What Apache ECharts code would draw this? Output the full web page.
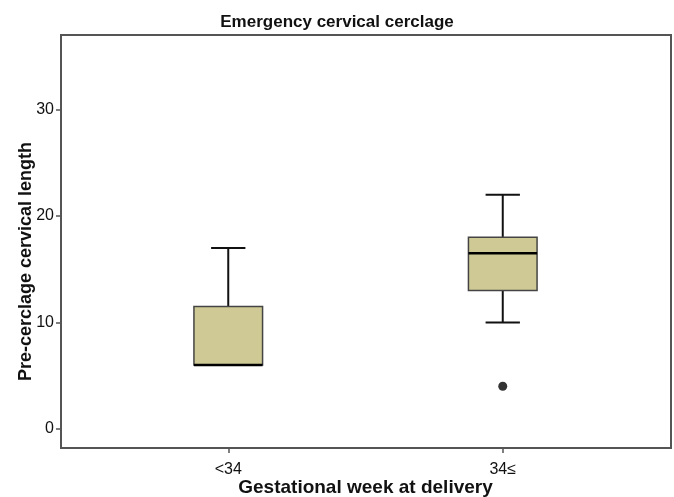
<!DOCTYPE html>
<html>
<head>
<meta charset="utf-8">
<script src="https://cdn.jsdelivr.net/npm/echarts@6/dist/echarts.min.js"></script>
<style>
  html, body { margin: 0; padding: 0; background: #fff; }
  #chart1 { width: 674px; height: 497px; }
</style>
</head>
<body>
<div id="chart1"></div>
<script>
// 数据
var categories = ['<34', '34≤'];
// [min, Q1, median, Q3, max]
var boxValues = [
    [6, 6, 6, 11.5, 17],
    [10, 13, 16.5, 18, 22]
];
var outliers = [['34≤', 4]];
var yTicks = [0, 10, 20, 30];

var fontFamily = '"Liberation Sans", Arial, Helvetica, sans-serif';

// 箱线图数据: [类别索引, min, Q1, median, Q3, max]
var boxData = boxValues.map(function (d, i) {
    return [i].concat(d);
});

function renderBox(params, api) {
    var idx = api.value(0);
    var pMin = api.coord([idx, api.value(1)]);
    var pQ1 = api.coord([idx, api.value(2)]);
    var pMed = api.coord([idx, api.value(3)]);
    var pQ3 = api.coord([idx, api.value(4)]);
    var pMax = api.coord([idx, api.value(5)]);
    var bw = api.size([1, 0])[0] * 0.25; // 箱宽
    var cx = pMed[0];
    var capW = bw / 2; // 须线端点宽度
    var lineStyle = { stroke: '#111', lineWidth: 2 };
    return {
        type: 'group',
        children: [
            { type: 'line', shape: { x1: cx, y1: pMax[1], x2: cx, y2: pQ3[1] }, style: lineStyle },
            { type: 'line', shape: { x1: cx, y1: pQ1[1], x2: cx, y2: pMin[1] }, style: lineStyle },
            { type: 'line', shape: { x1: cx - capW / 2, y1: pMax[1], x2: cx + capW / 2, y2: pMax[1] }, style: lineStyle },
            { type: 'line', shape: { x1: cx - capW / 2, y1: pMin[1], x2: cx + capW / 2, y2: pMin[1] },
              style: { stroke: '#111', lineWidth: pMin[1] === pQ1[1] ? 0 : 2 } },
            {
                type: 'rect',
                shape: { x: cx - bw / 2, y: pQ3[1], width: bw, height: pQ1[1] - pQ3[1] },
                style: { fill: '#cfca95', stroke: '#444', lineWidth: 1.5 }
            },
            { type: 'line', shape: { x1: cx - bw / 2, y1: pMed[1], x2: cx + bw / 2, y2: pMed[1] },
              style: { stroke: '#000', lineWidth: 2.5 } }
        ]
    };
}

option = {
    backgroundColor: '#fff',
    title: {
        text: 'Emergency cervical cerclage',
        left: 'center',
        top: 9,
        textStyle: {
            color: '#111',
            fontSize: 17,
            fontWeight: 'bold',
            fontFamily: fontFamily
        }
    },
    grid: [
        { // 外框
            left: 61, right: 3, top: 35, bottom: 49,
            outerBoundsMode: 'none',
            show: true,
            borderColor: '#555',
            borderWidth: 2,
            backgroundColor: 'transparent'
        },
        { // 箱线图区域
            left: 91, right: 34, top: 35, bottom: 49,
            outerBoundsMode: 'none'
        }
    ],
    xAxis: [
        {
            gridIndex: 0,
            type: 'value',
            show: false
        },
        {
            gridIndex: 1,
            type: 'category',
            data: categories,
            name: 'Gestational week at delivery',
            nameLocation: 'middle',
            nameGap: 30,
            nameMoveOverlap: false,
            nameTextStyle: {
                color: '#111',
                fontSize: 19,
                fontWeight: 'bold',
                fontFamily: fontFamily
            },
            axisLine: { show: false, onZero: false },
            axisTick: {
                show: true,
                alignWithLabel: true,
                length: 5,
                lineStyle: { color: '#555', width: 1.5 }
            },
            axisLabel: {
                color: '#111',
                fontSize: 16,
                margin: 14,
                fontFamily: fontFamily
            },
            splitLine: { show: false }
        }
    ],
    yAxis: [
        {
            gridIndex: 0,
            type: 'value',
            min: -1.8,
            max: 37,
            name: 'Pre-cerclage cervical length',
            nameLocation: 'middle',
            nameGap: 26,
            nameMoveOverlap: false,
            nameTextStyle: {
                color: '#111',
                fontSize: 18,
                fontWeight: 'bold',
                fontFamily: fontFamily,
                padding: [0, 40, 0, 0]
            },
            axisLine: { show: false, onZero: false },
            axisTick: {
                show: true,
                length: 5,
                customValues: yTicks,
                lineStyle: { color: '#555', width: 1.5 }
            },
            axisLabel: {
                color: '#111',
                fontSize: 16,
                margin: 7,
                customValues: yTicks,
                fontFamily: fontFamily
            },
            splitLine: { show: false }
        },
        {
            gridIndex: 1,
            type: 'value',
            min: -1.8,
            max: 37,
            show: false
        }
    ],
    series: [
        {
            type: 'custom',
            xAxisIndex: 1,
            yAxisIndex: 1,
            data: boxData,
            encode: { x: 0, y: [1, 2, 3, 4, 5] },
            renderItem: renderBox,
            z: 2
        },
        {
            type: 'scatter',
            xAxisIndex: 1,
            yAxisIndex: 1,
            data: outliers,
            symbol: 'circle',
            symbolSize: 9,
            itemStyle: { color: '#000' },
            z: 3
        }
    ]
};

var myChart = echarts.init(document.getElementById('chart1'));
myChart.setOption(option);
</script>
</body>
</html>
